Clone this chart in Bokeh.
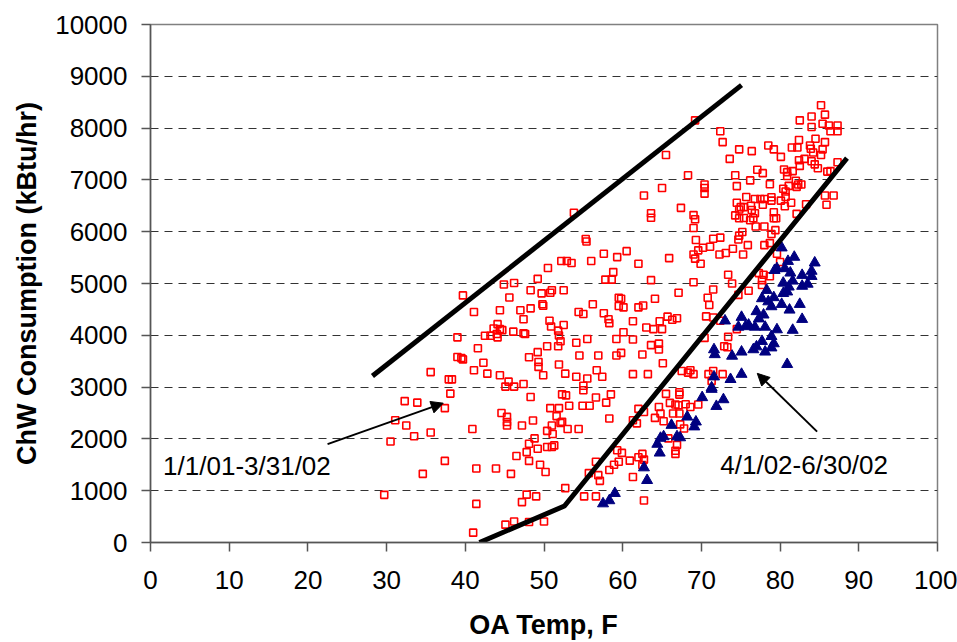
from bokeh.plotting import figure
from bokeh.models import Range1d, FixedTicker, Arrow, NormalHead, Label
from bokeh.embed import file_html
from bokeh.resources import INLINE

# ---- data: 1/1/01-3/31/02 (red open squares) ----
red_x = [
69.2,65.5,68.3,65.0,62.7,63.6,63.6,67.4,69.0,69.2,69.0,69.3,70.4,70.4,70.4,72.4,72.7,73.6,74.8,76.4,
74.3,74.5,76.2,77.1,77.8,78.5,79.2,80.1,78.7,82.5,84.0,84.0,85.2,85.7,85.4,86.2,87.3,86.4,87.3,82.4,
84.5,85.7,81.5,82.2,83.8,83.9,84.2,85.4,85.2,83.1,82.4,82.5,84.0,84.4,84.8,87.3,86.0,86.4,80.5,80.9,
81.6,80.9,82.0,82.3,82.7,82.1,81.1,80.4,80.7,85.7,86.8,85.9,75.7,74.5,76.8,77.5,78.0,78.9,78.9,80.1,
80.7,81.4,80.6,77.8,75.0,74.8,75.4,76.3,76.4,74.3,74.8,75.4,76.8,76.6,76.2,79.2,79.2,79.5,76.9,78.0,
79.4,78.9,82.1,83.3,74.8,75.2,74.7,71.5,72.4,
53.8,55.3,
60.5,62.0,65.9,63.6,69.0,67.1,64.1,62.0,62.6,60.1,59.8,61.3,63.0,63.9,64.7,65.0,65.7,66.3,66.9,60.1,
61.3,63.6,64.6,64.6,62.5,59.8,65.1,61.3,63.2,67.5,68.3,68.6,69.0,70.8,71.0,71.5,70.6,71.5,72.4,69.0,
69.2,69.9,69.6,70.2,71.1,72.3,73.1,74.0,75.3,75.9,78.0,78.7,73.4,73.9,76.0,74.7,77.3,77.9,78.7,77.7,
77.7,79.6,80.0,73.4,72.9,73.3,74.5,70.4,71.5,70.9,72.7,71.3,
65.5,67.2,67.2,64.6,62.7,62.0,64.8,64.1,65.2,66.0,66.7,67.1,68.0,68.6,69.6,66.4,67.2,67.3,67.8,61.3,
61.8,59.9,60.9,62.0,62.5,62.7,62.5,61.3,62.7,66.7,66.7,66.9,65.8,
38.1,32.3,33.9,37.4,31.1,32.5,33.5,35.6,30.5,37.4,34.6,29.7,40.9,41.4,41.4,41.0,43.9,45.8,45.1,46.2,
48.1,50.0,47.8,47.2,49.0,48.3,50.8,51.9,53.2,52.3,52.8,55.0,56.6,58.5,57.9,54.9,55.8,44.6,45.3,45.3,
45.3,47.2,48.6,51.6,52.1,52.3,51.0,50.4,51.1,53.0,54.4,58.3,48.8,48.1,49.2,47.8,46.5,48.1,49.5,50.2,
50.4,51.0,51.3,52.7,55.1,56.6,56.6,55.7,56.9,57.1,58.3,58.9,59.3,59.5,
39.7,41.1,35.6,37.9,38.3,39.0,41.6,39.0,39.5,39.7,41.1,42.3,42.8,44.4,44.9,46.2,45.6,49.2,48.3,49.7,
49.8,49.9,44.4,47.0,48.3,47.4,44.1,43.6,44.4,44.7,44.1,44.0,42.5,43.2,46.1,47.4,47.6,50.5,52.2,52.9,
53.5,56.0,57.6,59.3,58.8,57.8,58.6,55.4,51.0,50.8,52.5,56.2,54.4,55.0,57.6,58.2,58.3,59.5,59.5,50.7,
50.9,52.5,51.8,51.9,52.1,51.8,50.4,55.5,54.1,54.5,56.9,59.2,59.2,48.1,49.2,49.3,49.3,49.9,51.9,52.7,
54.1,55.5,56.7,57.4,55.0,45.1,45.5,46.2,47.4,
]
red_y = [
8150,7480,7090,6845,6700,6355,6270,6460,6320,6240,6070,5840,6910,6845,6735,7940,7730,7405,7590,7555,
7090,6880,6990,7195,7130,7665,7590,7445,6915,8150,8225,8020,8440,8260,8085,8050,8050,7940,7940,7770,
7795,7730,7625,7625,7665,7600,7530,7590,7480,7405,7380,7270,7360,7300,7225,7340,7160,7170,7200,7150,
7170,7075,6985,6910,6910,6865,6885,6830,6775,6700,6700,6520,6670,6560,6630,6630,6630,6665,6600,6600,
6670,6560,6490,6520,6475,6430,6475,6500,6420,6315,6260,6265,6355,6260,6220,6375,6260,6260,6100,6100,
6030,5955,6345,6530,5925,5995,5850,5865,5885,
6365,5860,
5625,5380,5490,5065,5025,4820,4705,4540,4575,4540,4705,4270,4150,4120,4270,4120,4360,4300,4330,4060,
3920,3810,3840,3725,3630,3660,3460,3250,3250,3310,3280,3325,3250,4725,4585,4885,4365,4345,4280,5560,
5480,5380,5640,5690,5710,5560,5590,5670,5560,5740,5740,5780,5170,5000,4860,4780,5200,5170,5140,5065,
4970,5575,5415,3970,3790,3770,4120,3950,3310,3250,3250,3120,
2870,2900,2855,2615,2520,2580,2490,2405,2340,2695,2665,2650,2670,2615,2665,2490,2490,2280,2200,2360,
2300,1730,1580,1645,1710,1600,1495,1265,810,1770,1710,1885,2010,
2875,2730,2700,2595,2360,2260,2050,2125,1950,1575,1325,920,2190,1430,745,190,1430,1325,345,405,
395,405,925,780,890,2810,2595,2595,2640,2860,2840,2940,2800,2860,2700,2640,2640,2500,2425,2325,
2260,2260,2355,2440,2310,2330,2260,2155,2095,2190,2190,2395,2010,1905,1810,1745,1670,1575,1500,1360,
1845,1845,1875,1050,890,890,1560,1340,1300,1190,1400,1500,1780,1560,
4770,4450,3290,3150,3150,3960,3750,3580,3560,3535,3325,3470,3260,3230,4980,5010,4730,5090,4870,4810,
4600,4570,4485,4485,4520,4310,4215,4130,4120,4100,3960,4025,3990,3990,4070,4040,4025,5300,5435,5435,
5395,5435,5575,5510,5220,5075,5075,5810,4870,4820,4870,4600,4450,4410,4425,4310,4235,4725,4565,4280,
4170,4200,4090,3995,3885,3790,3790,3930,3855,3610,3610,3930,3610,3575,3675,3485,3390,3230,3435,3260,
3200,3165,3325,3200,3025,3010,3105,3010,3060,
]

# ---- data: 4/1/02-6/30/02 (blue triangles) ----
blue_x = [
80.2,81.8,81.0,80.6,79.3,79.6,81.3,84.4,84.0,84.0,82.8,83.5,82.8,81.6,80.4,81.1,80.9,80.4,78.3,78.5,
79.2,77.7,82.5,81.2,80.2,78.9,77.0,77.9,77.3,75.1,82.8,73.0,74.7,75.6,76.0,76.8,78.1,79.6,81.6,78.9,
77.7,79.2,77.0,76.6,78.1,78.9,71.6,71.7,73.9,75.1,80.9,75.1,73.7,71.6,71.3,
70.1,71.3,72.8,71.9,68.2,69.3,69.1,66.2,65.2,64.8,66.9,67.3,64.4,64.7,62.7,63.1,
57.5,58.3,59.0,
]
blue_y = [
5690,5510,5430,5290,5255,5290,5205,5400,5240,5140,5160,4990,4950,5050,5010,4935,4840,4810,4870,4650,
4730,4710,4600,4490,4600,4555,4460,4395,4320,4350,4310,4280,4160,4170,4200,4160,4160,4110,4100,3980,
3885,3840,3780,3725,3680,3760,3725,3630,3600,3680,3440,3250,3150,3200,2990,
2800,2960,2760,2630,2425,2330,2235,2265,2045,2015,2045,2025,1900,1730,1445,1200,
750,810,950,
]

# ---- envelope lines ----
upper_x = [28.2, 75.1]
upper_y = [3215, 8830]
lower_x = [41.8, 52.6, 88.5]
lower_y = [0, 705, 7420]

# ---- annotations ----
label_texts = ["1/1/01-3/31/02", "4/1/02-6/30/02"]
label_x = [1.6, 72.4]
label_y = [1480, 1490]
arrow_x0 = [22.5, 84.7]
arrow_y0 = [1900, 2140]
arrow_x1 = [37.2, 77.1]
arrow_y1 = [2690, 3265]

x_ticks = list(range(0, 101, 10))
y_ticks = list(range(0, 10001, 1000))

FONT = "Liberation Sans"

p = figure(width=957, height=642, output_backend="svg", toolbar_location=None,
           x_range=Range1d(0, 100), y_range=Range1d(0, 10000),
           min_border_left=150, min_border_right=20, min_border_top=24, min_border_bottom=98)
p.background_fill_color = "white"
p.border_fill_color = "white"
p.outline_line_color = "#808080"
p.outline_line_width = 1.5

p.xgrid.visible = False
p.ygrid.ticker = FixedTicker(ticks=y_ticks)
p.ygrid.grid_line_color = "#333333"
p.ygrid.grid_line_dash = "8 6"
p.ygrid.grid_line_width = 1

for ax, ticks in ((p.xaxis[0], x_ticks), (p.yaxis[0], y_ticks)):
    ax.ticker = FixedTicker(ticks=ticks)
    ax.minor_tick_line_color = None
    ax.major_tick_in = 0
    ax.major_tick_out = 9
    ax.axis_line_color = "#555555"
    ax.axis_line_width = 1.5
    ax.major_tick_line_color = "#555555"
    ax.major_tick_line_width = 1.5
    ax.major_label_text_font = FONT
    ax.major_label_text_font_size = "26px"
    ax.major_label_text_color = "black"
    ax.axis_label_text_font = FONT
    ax.axis_label_text_font_size = "27px"
    ax.axis_label_text_font_style = "bold"
    ax.axis_label_text_color = "black"

p.xaxis.axis_label = "OA Temp, F"
p.yaxis.axis_label = "ChW Consumption (kBtu/hr)"
p.xaxis.major_label_standoff = 19
p.yaxis.major_label_standoff = 14
p.xaxis.axis_label_standoff = 18
p.yaxis.axis_label_standoff = 10

p.scatter(red_x, red_y, marker="square", size=7, line_color="#FF0000", line_width=1.6,
          fill_color=None)
p.scatter(blue_x, blue_y, marker="triangle", size=11, line_color="#000080",
          fill_color="#000080")

p.line(upper_x, upper_y, line_color="black", line_width=5)
p.line(lower_x, lower_y, line_color="black", line_width=5)

for i in range(len(arrow_x0)):
    p.add_layout(Arrow(end=NormalHead(size=12, fill_color="black", line_color="black"),
                       x_start=arrow_x0[i], y_start=arrow_y0[i],
                       x_end=arrow_x1[i], y_end=arrow_y1[i],
                       line_color="black", line_width=2))

for t, lx, ly in zip(label_texts, label_x, label_y):
    p.add_layout(Label(x=lx, y=ly, text=t, text_font=FONT, text_font_size="26px",
                       text_baseline="middle", text_align="left", text_color="black"))

open("out.html", "w").write(file_html(p, INLINE))
